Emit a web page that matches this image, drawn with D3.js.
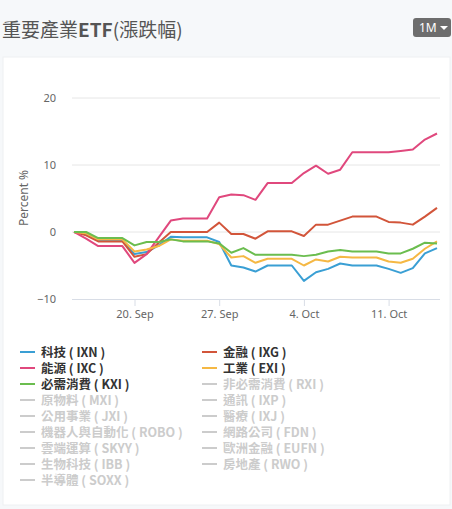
<!doctype html>
<html>
<head>
<meta charset="utf-8">
<title>重要產業ETF</title>
<script src="https://d3js.org/d3.v7.min.js"></script>
<style>
  html, body { margin: 0; padding: 0; background: #f6f8fa; }
  body { width: 452px; height: 509px; overflow: hidden; font-family: "Noto Sans CJK TC", "Noto Sans", sans-serif; }
  .axis text { font: 11px "Noto Sans", sans-serif; fill: #666; }
</style>
</head>
<body>
<script>
// dates: daily, Sep 15 2021 .. Oct 15 2021 (weekends repeat last close)
var startDate = new Date(2021, 8, 15);
var dayCount = 31;

// series values (percent change)
var ixn = [0, -0.3, -1.3, -1.3, -1.3, -3.3, -3.0, -2.0, -0.7, -0.8, -0.8, -0.8, -1.5, -5.0, -5.3, -5.9,
           -5.0, -5.0, -5.0, -7.3, -6.0, -5.5, -4.7, -5.0, -5.0, -5.0, -5.5, -6.1, -5.4, -3.2, -2.4];
var ixg = [0, -0.5, -1.4, -1.4, -1.4, -3.7, -3.3, -1.6, 0, 0, 0, 0, 1.4, -0.3, -0.3, -1.0,
           0.1, 0.1, 0.1, -0.6, 1.1, 1.1, 1.7, 2.3, 2.3, 2.3, 1.5, 1.4, 1.1, 2.3, 3.6];
var ixc = [0, -1.0, -2.1, -2.1, -2.1, -4.6, -3.3, -0.8, 1.7, 2.0, 2.0, 2.0, 5.2, 5.6, 5.5, 4.8,
           7.3, 7.3, 7.3, 8.8, 9.9, 8.7, 9.3, 11.9, 11.9, 11.9, 11.9, 12.1, 12.3, 13.8, 14.7];
var exi = [0, -0.2, -1.1, -1.1, -1.1, -2.9, -2.6, -2.1, -1.1, -1.3, -1.3, -1.3, -1.8, -3.8, -3.6, -4.6,
           -4.0, -4.0, -4.0, -5.0, -4.1, -4.4, -3.7, -3.8, -3.8, -3.8, -4.4, -4.6, -4.0, -2.5, -1.4];
var kxi = [0, 0, -0.9, -0.9, -0.9, -2.0, -1.5, -1.5, -1.1, -1.4, -1.4, -1.4, -1.7, -3.1, -2.4, -3.4,
           -3.4, -3.4, -3.4, -3.6, -3.4, -2.9, -2.7, -2.9, -2.9, -2.9, -3.2, -3.2, -2.5, -1.6, -1.7];

// legend entries in series order; only the first five are shown
var seriesNames = ['科技 ( IXN )', '金融 ( IXG )', '能源 ( IXC )', '工業 ( EXI )', '必需消費 ( KXI )',
                   '非必需消費 ( RXI )', '原物料 ( MXI )', '通訊 ( IXP )', '公用事業 ( JXI )', '醫療 ( IXJ )',
                   '機器人與自動化 ( ROBO )', '網路公司 ( FDN )', '雲端運算 ( SKYY )', '歐洲金融 ( EUFN )',
                   '生物科技 ( IBB )', '房地產 ( RWO )', '半導體 ( SOXX )'];
var seriesColors = ['#3a9fd4', '#d2553a', '#e0487d', '#f5b844', '#6bbd4f'];
var visibleValues = [ixn, ixg, ixc, exi, kxi];

var yTicks = [-10, 0, 10, 20];

var width = 452, height = 509;

var svg = d3.select('body').append('svg')
  .attr('width', width)
  .attr('height', height);

// title
svg.append('text')
  .attr('x', 2).attr('y', 37)
  .style('font-family', '"Noto Sans CJK TC", sans-serif')
  .style('font-size', '19px')
  .style('fill', '#555')
  .html('重要產業<tspan style="font-weight:bold">ETF</tspan>(漲跌幅)');

// range button
var btn = svg.append('g').attr('transform', 'translate(413, 18)');
btn.append('rect').attr('width', 38).attr('height', 19).attr('rx', 3).attr('fill', '#6d6d6d');
btn.append('text').attr('x', 6).attr('y', 14)
  .style('font-family', '"Noto Sans", sans-serif').style('font-size', '12px').style('fill', '#fff')
  .text('1M');
btn.append('path').attr('d', 'M27,8 L35,8 L31,12 Z').attr('fill', '#fff');

// card
svg.append('rect')
  .attr('x', 3).attr('y', 57).attr('width', 447).attr('height', 448)
  .attr('fill', '#fff').attr('stroke', '#eef0f2');

// scales
var dates = d3.range(dayCount).map(function(i) { return d3.timeDay.offset(startDate, i); });

var xScale = d3.scaleTime()
  .domain(d3.extent(dates))
  .range([74, 437]);

var yScale = d3.scaleLinear()
  .domain([-10, 20])
  .range([299, 98]);

// gridlines
svg.append('g').selectAll('line')
  .data(yTicks.filter(function(d) { return d !== -10; }))
  .enter().append('line')
  .attr('x1', 72).attr('x2', 440)
  .attr('y1', function(d) { return yScale(d); })
  .attr('y2', function(d) { return yScale(d); })
  .attr('stroke', '#e6e6e6').attr('stroke-width', 1);

// y axis labels
var yAxis = d3.axisLeft(yScale).tickValues(yTicks).tickSize(0).tickPadding(0);
var yg = svg.append('g')
  .attr('class', 'axis')
  .attr('transform', 'translate(56, 0)')
  .call(yAxis);
yg.select('.domain').remove();

// x axis
var xAxis = d3.axisBottom(xScale)
  .ticks(d3.timeMonday.every(1))
  .tickFormat(d3.timeFormat('%-d. %b'))
  .tickSize(7)
  .tickPadding(4);
var xg = svg.append('g')
  .attr('class', 'axis')
  .attr('transform', 'translate(0, 299)')
  .call(xAxis);
xg.select('.domain').attr('d', 'M72,0.5H440').attr('stroke', '#d8dde6');
xg.selectAll('.tick line').attr('stroke', '#d8dde6');

// y axis title
svg.append('text')
  .attr('transform', 'translate(28, 198) rotate(-90)')
  .style('text-anchor', 'middle')
  .style('font-family', '"Noto Sans", sans-serif')
  .style('font-size', '12px')
  .style('fill', '#666')
  .text('Percent %');

// lines
var line = d3.line()
  .x(function(d, i) { return xScale(dates[i]); })
  .y(function(d) { return yScale(d); });

svg.append('g').selectAll('path')
  .data(visibleValues)
  .enter().append('path')
  .attr('d', line)
  .attr('fill', 'none')
  .attr('stroke', function(d, i) { return seriesColors[i]; })
  .attr('stroke-width', 2)
  .attr('stroke-linejoin', 'round');

// legend: two columns, filled row by row
var legend = svg.append('g').selectAll('g')
  .data(seriesNames)
  .enter().append('g')
  .attr('transform', function(d, i) {
    return 'translate(' + (i % 2 === 0 ? 20 : 202) + ',' + (352 + Math.floor(i / 2) * 16) + ')';
  });

legend.append('line')
  .attr('x1', 0).attr('x2', 15).attr('y1', 0).attr('y2', 0)
  .attr('stroke', function(d, i) { return i < seriesColors.length ? seriesColors[i] : '#ccc'; })
  .attr('stroke-width', 2);

legend.append('text')
  .attr('x', 21).attr('y', 4.5)
  .style('font-family', '"Noto Sans CJK TC", sans-serif')
  .style('font-size', '12.5px')
  .style('font-weight', 'bold')
  .style('fill', function(d, i) { return i < seriesColors.length ? '#333' : '#ccc'; })
  .text(function(d) { return d; });
</script>
</body>
</html>
